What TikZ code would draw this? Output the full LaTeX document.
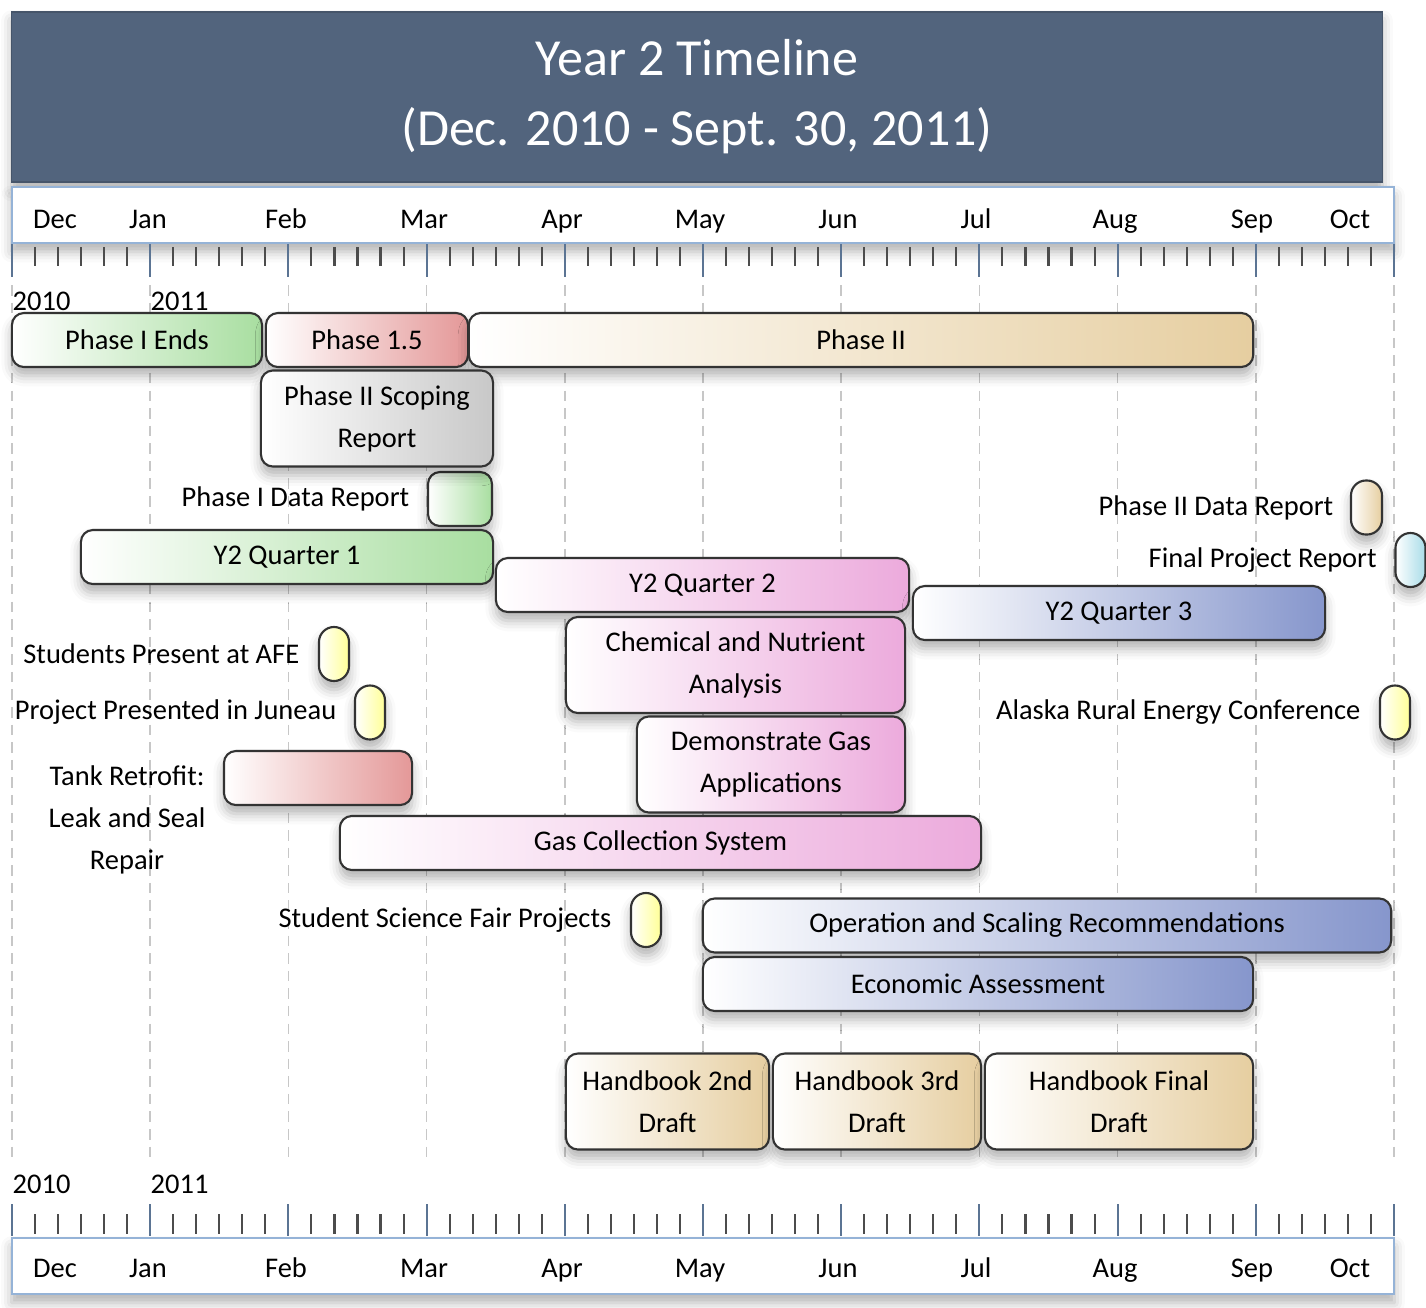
\documentclass[tikz,border=0pt]{standalone}
\usepackage{fontspec}
\setmainfont{Carlito}
\usetikzlibrary{positioning,shadows.blur}

\definecolor{hdrblue}{HTML}{52647D}
\definecolor{axline}{HTML}{95B3D7}
\definecolor{majtick}{HTML}{5B7493}
\definecolor{grn}{HTML}{A8DEA0}
\definecolor{rd}{HTML}{E49898}
\definecolor{tan}{HTML}{E6CEA0}
\definecolor{gry}{HTML}{C8C8C8}
\definecolor{pnk}{HTML}{ECAADC}
\definecolor{blu}{HTML}{8696CC}
\definecolor{ylw}{HTML}{FFFF96}
\definecolor{lblu}{HTML}{A8DCE8}

\newcommand\lblsize{\fontsize{8.1}{12}\selectfont}
\newcommand\ttlsize{\fontsize{14.8}{19.9}\selectfont}

\begin{document}
\begin{tikzpicture}[x = 0.01cm, y = -0.01cm,
    softshadow/.style = {blur shadow = {shadow xshift = 0pt, shadow yshift = -2.5pt,
                         shadow blur radius = 3pt, shadow opacity = 30}},
    hdr/.style = {fill = hdrblue, draw = hdrblue!85!black, text = white, align = center,
                  font = \ttlsize, minimum width = 13.70cm, minimum height = 1.70cm,
                  inner sep = 0pt, softshadow},
    axbox/.style = {fill = white, draw = axline, line width = 0.6pt, minimum width = 13.82cm,
                    minimum height = 0.56cm, inner sep = 0pt, softshadow},
    month/.style = {anchor = base, font = \lblsize, inner sep = 0pt},
    year/.style = {anchor = base west, font = \lblsize, inner sep = 0pt},
    minor/.style = {draw = black!70, line width = 0.6pt},
    major/.style = {draw = majtick, line width = 0.6pt},
    grid/.style = {draw = black!22, line width = 0.4pt, dash pattern = on 3pt off 2pt},
    bar/.style = {draw = black!80, line width = 0.6pt, rounded corners = 0.12cm, inner sep = 0pt,
                  minimum height = 0.54cm, align = center, font = \lblsize, left color = white,
                  softshadow},
    tall/.style = {minimum height = 0.96cm},
    mile/.style = {bar, rounded corners = 0.15cm, minimum width = 0.30cm},
    note/.style = {inner sep = 0pt, font = \lblsize}]

  \useasboundingbox (0, 0) rectangle (1426, 1308);

  % header
  \node [hdr] (title) at (697, 97) {Year 2 Timeline\\(Dec. 2010 - Sept. 30, 2011)};

  % month grid
  \foreach \i in {0,...,10}
    \draw [grid] ({12 + \i*138.2}, 285) -- ({12 + \i*138.2}, 1160);

  % axes
  \node [axbox] (topaxis) at (703, 215) {};
  \node [axbox] (botaxis) at (703, 1266) {};
  \foreach \k in {0,...,60} {
    \pgfmathtruncatemacro\r{mod(\k, 6)}
    \ifnum\r=0
      \draw [major] ({12 + \k*23.033}, 244) -- ({12 + \k*23.033}, 277);
      \draw [major] ({12 + \k*23.033}, 1204) -- ({12 + \k*23.033}, 1236);
    \else
      \draw [minor] ({12 + \k*23.033}, 247) -- ({12 + \k*23.033}, 266);
      \draw [minor] ({12 + \k*23.033}, 1214) -- ({12 + \k*23.033}, 1234);
    \fi
  }
  \foreach \m/\x [count = \i] in {Dec/55, Jan/148, Feb/286, Mar/424, Apr/562, May/700,
                                  Jun/838, Jul/976, Aug/1115, Sep/1252, Oct/1350} {
    \node [month] (top\i) at (\x, 228) {\m};
    \node [month] (bot\i) at (\x, 1277) {\m};
  }
  \node [year] (yrtop0) at (12, 310) {2010};
  \node [year] (yrtop1) at (150, 310) {2011};
  \node [year] (yrbot0) at (12, 1193) {2010};
  \node [year] (yrbot1) at (150, 1193) {2011};

  % milestones
  \node [mile, right color = grn, minimum width = 0.64cm, rounded corners = 0.12cm] (p1data) at (460, 499) {};
  \node [mile, right color = tan, minimum width = 0.31cm] (p2data) at (1366.5, 507.5) {};
  \node [mile, right color = lblu] (final) at (1410.5, 560) {};
  \node [mile, right color = ylw] (afe) at (334, 654) {};
  \node [mile, right color = ylw] (juneau) at (370, 712.5) {};
  \node [mile, right color = ylw] (arec) at (1395, 712.5) {};
  \node [mile, right color = ylw] (fair) at (646, 920) {};

  \node [note, left = 0.17cm of p1data] (p1datalbl) {Phase I Data Report};
  \node [note, left = 0.16cm of p2data] (p2datalbl) {Phase II Data Report};
  \node [note, left = 0.17cm of final] (finallbl) {Final Project Report};
  \node [note, left = 0.18cm of afe] (afelbl) {Students Present at AFE};
  \node [note, left = 0.17cm of juneau] (juneaulbl) {Project Presented in Juneau};
  \node [note, left = 0.18cm of arec] (areclbl) {Alaska Rural Energy Conference};
  \node [note, left = 0.18cm of fair] (fairlbl) {Student Science Fair Projects};
  \node [note, align = center] (tanklbl) at (127, 820) {Tank Retrofit:\\Leak and Seal\\Repair};

  % phases
  \node [bar, right color = grn, minimum width = 2.50cm] (ph1) at (137, 340) {Phase I Ends};
  \node [bar, right color = rd, minimum width = 2.02cm] (ph15) at (367, 340) {Phase 1.5};
  \node [bar, right color = tan, minimum width = 7.84cm] (ph2) at (861, 340) {Phase II};
  \node [bar, tall, right color = gry, minimum width = 2.32cm] (scope) at (377, 418.5) {Phase II Scoping\\Report};

  % quarters
  \node [bar, right color = grn, minimum width = 4.12cm] (q1) at (287, 557) {Y2 Quarter 1};
  \node [bar, right color = pnk, minimum width = 4.13cm] (q2) at (702.5, 585) {Y2 Quarter 2};
  \node [bar, right color = blu, minimum width = 4.12cm] (q3) at (1119, 613) {Y2 Quarter 3};

  % tasks
  \node [bar, tall, right color = pnk, minimum width = 3.39cm] (chem) at (735.5, 665) {Chemical and Nutrient\\Analysis};
  \node [bar, tall, right color = pnk, minimum width = 2.68cm] (demo) at (771, 764.5) {Demonstrate Gas\\Applications};
  \node [bar, right color = rd, minimum width = 1.88cm] (tank) at (318, 778) {};
  \node [bar, right color = pnk, minimum width = 6.41cm] (gcs) at (660.5, 843) {Gas Collection System};
  \node [bar, right color = blu, minimum width = 6.88cm] (osr) at (1047, 925.5) {Operation and Scaling Recommendations};
  \node [bar, right color = blu, minimum width = 5.50cm] (econ) at (978, 984) {Economic Assessment};
  \node [bar, tall, right color = tan, minimum width = 2.03cm] (hb2) at (667.5, 1101.5) {Handbook 2nd\\Draft};
  \node [bar, tall, right color = tan, minimum width = 2.08cm] (hb3) at (877, 1101.5) {Handbook 3rd\\Draft};
  \node [bar, tall, right color = tan, minimum width = 2.68cm] (hbf) at (1119, 1101.5) {Handbook Final\\Draft};
\end{tikzpicture}
\end{document}
